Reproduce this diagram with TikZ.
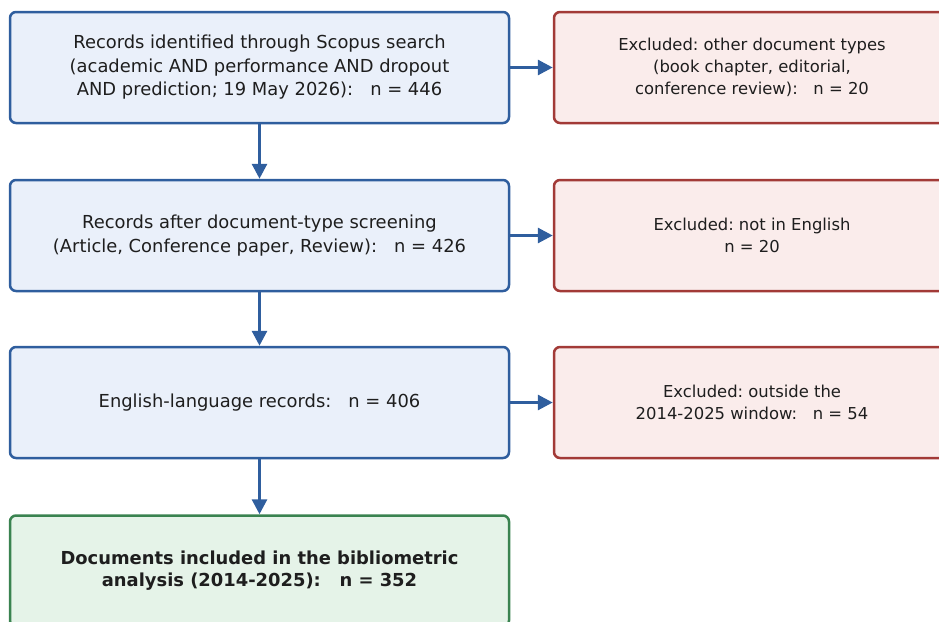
\documentclass[tikz,border=0pt]{standalone}
\usepackage{fontspec}
\setmainfont{DejaVu Sans}
\frenchspacing
\usetikzlibrary{arrows.meta}
\definecolor{FlowBlue}{HTML}{2F5E9E}
\definecolor{FlowBlueFill}{HTML}{EAF0FA}
\definecolor{FlowRust}{HTML}{A23A37}
\definecolor{FlowRustFill}{HTML}{FAECEB}
\definecolor{FlowGreen}{HTML}{3A8350}
\definecolor{FlowGreenFill}{HTML}{E5F3E8}
\definecolor{FlowInk}{HTML}{1E1E1E}
\tikzset{
    recbox/.style={draw=FlowBlue, fill=FlowBlueFill, line width=2.5pt, rounded corners=6pt,
        minimum width=499pt, minimum height=111pt, align=center, text=FlowInk,
        font=\fontsize{17.9}{23.5}\selectfont},
    exbox/.style={recbox, draw=FlowRust, fill=FlowRustFill, minimum width=396pt,
        font=\fontsize{16.4}{22}\selectfont},
    inbox/.style={recbox, draw=FlowGreen, fill=FlowGreenFill, font=\fontsize{17.9}{22}\selectfont\bfseries},
    flow/.style={draw=FlowBlue, line width=3pt, -{Triangle[length=15pt,width=15pt]}}
}
\begin{document}
\begin{tikzpicture}[x=1pt, y=-1pt]
        \useasboundingbox (0,0) rectangle (939,621);
        % left column
        \node[recbox] (found) at (259.5,67.5) {Records identified through Scopus search\\(academic AND performance AND dropout\\AND prediction; 19 May 2026):\ \ \ n = 446};
        \node[recbox] (typed) at (259.5,235.5) {Records after document-type screening\\(Article, Conference paper, Review):\ \ \ n = 426};
        \node[recbox] (english) at (259.5,402.5) {English-language records:\ \ \ n = 406};
        \node[inbox] (included) at (259.5,571) {Documents included in the bibliometric\\analysis (2014-2025):\ \ \ n = 352};

        % exclusions
        \node[exbox] (exType) at (752,67.5) {Excluded: other document types\\(book chapter, editorial,\\conference review):\ \ \ n = 20};
        \node[exbox] (exLang) at (752,235.5) {Excluded: not in English\\n = 20};
        \node[exbox] (exYear) at (752,402.5) {Excluded: outside the\\2014-2025 window:\ \ \ n = 54};

        \draw[flow] (found.south) -- (typed.north);
        \draw[flow] (typed.south) -- (english.north);
        \draw[flow] (english.south) -- (included.north);
        \draw[flow] (found.east) -- (exType.west);
        \draw[flow] (typed.east) -- (exLang.west);
        \draw[flow] (english.east) -- (exYear.west);
\end{tikzpicture}
\end{document}
